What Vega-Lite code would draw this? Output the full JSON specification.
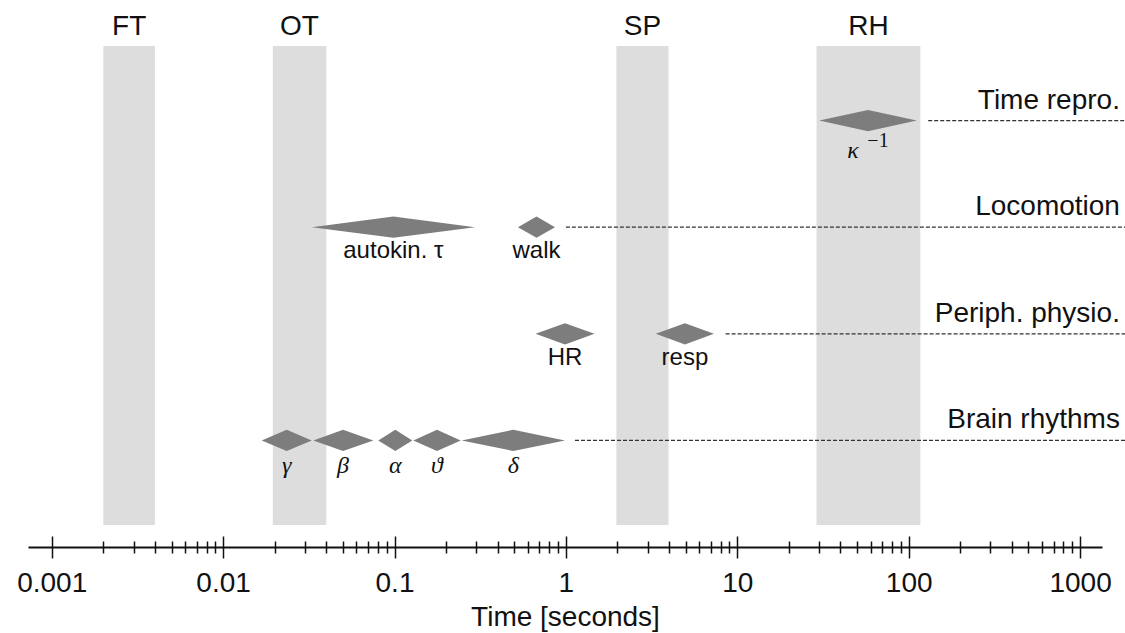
{
  "$schema": "https://vega.github.io/schema/vega-lite/v6.json",
  "width": 1074,
  "height": 547,
  "autosize": {"type": "none"},
  "padding": {"left": 28, "top": 0, "right": 23, "bottom": 86},
  "background": "white",
  "config": {"view": {"stroke": null}, "text": {"font": "Liberation Sans", "color": "#111111"}},
  "datasets": {
    "bands": [
      {"name": "FT", "lo": 0.002, "hi": 0.004, "mid": 0.00283},
      {"name": "OT", "lo": 0.0195, "hi": 0.04, "mid": 0.0279},
      {"name": "SP", "lo": 1.97, "hi": 3.97, "mid": 2.8},
      {"name": "RH", "lo": 29, "hi": 117, "mid": 58.2}
    ],
    "rows": [
      {"name": "Time repro.", "row": 4, "start": 130},
      {"name": "Locomotion", "row": 3, "start": 1.0},
      {"name": "Periph. physio.", "row": 2, "start": 8.55},
      {"name": "Brain rhythms", "row": 1, "start": 1.13}
    ],
    "diamonds": [
      {"id": "kappa", "row": 4, "mid": 57.9, "kind": "kappa", "label": "κ"},
      {"id": "autokin", "row": 3, "mid": 0.0985, "kind": "word", "label": "autokin. τ"},
      {"id": "walk", "row": 3, "mid": 0.674, "kind": "word", "label": "walk"},
      {"id": "HR", "row": 2, "mid": 0.988, "kind": "word", "label": "HR"},
      {"id": "resp", "row": 2, "mid": 4.95, "kind": "word", "label": "resp"},
      {"id": "gamma", "row": 1, "mid": 0.0235, "kind": "greek", "label": "γ"},
      {"id": "beta", "row": 1, "mid": 0.0501, "kind": "greek", "label": "β"},
      {"id": "alpha", "row": 1, "mid": 0.1011, "kind": "greek", "label": "α"},
      {"id": "theta", "row": 1, "mid": 0.177, "kind": "greek", "label": "ϑ"},
      {"id": "delta", "row": 1, "mid": 0.4934, "kind": "greek", "label": "δ"}
    ],
    "verts": [
      {"id": "kappa", "t": 30.1, "top": 4, "bot": 4},
      {"id": "kappa", "t": 57.9, "top": 4.1, "bot": 3.9},
      {"id": "kappa", "t": 111.4, "top": 4, "bot": 4},
      {"id": "autokin", "t": 0.0329, "top": 3, "bot": 3},
      {"id": "autokin", "t": 0.0985, "top": 3.1, "bot": 2.9},
      {"id": "autokin", "t": 0.295, "top": 3, "bot": 3},
      {"id": "walk", "t": 0.525, "top": 3, "bot": 3},
      {"id": "walk", "t": 0.674, "top": 3.1, "bot": 2.9},
      {"id": "walk", "t": 0.864, "top": 3, "bot": 3},
      {"id": "HR", "t": 0.665, "top": 2, "bot": 2},
      {"id": "HR", "t": 0.988, "top": 2.1, "bot": 1.9},
      {"id": "HR", "t": 1.469, "top": 2, "bot": 2},
      {"id": "resp", "t": 3.346, "top": 2, "bot": 2},
      {"id": "resp", "t": 4.95, "top": 2.1, "bot": 1.9},
      {"id": "resp", "t": 7.31, "top": 2, "bot": 2},
      {"id": "gamma", "t": 0.0168, "top": 1, "bot": 1},
      {"id": "gamma", "t": 0.0235, "top": 1.1, "bot": 0.9},
      {"id": "gamma", "t": 0.0329, "top": 1, "bot": 1},
      {"id": "beta", "t": 0.0336, "top": 1, "bot": 1},
      {"id": "beta", "t": 0.0501, "top": 1.1, "bot": 0.9},
      {"id": "beta", "t": 0.0752, "top": 1, "bot": 1},
      {"id": "alpha", "t": 0.0804, "top": 1, "bot": 1},
      {"id": "alpha", "t": 0.1011, "top": 1.1, "bot": 0.9},
      {"id": "alpha", "t": 0.127, "top": 1, "bot": 1},
      {"id": "theta", "t": 0.1288, "top": 1, "bot": 1},
      {"id": "theta", "t": 0.177, "top": 1.1, "bot": 0.9},
      {"id": "theta", "t": 0.2433, "top": 1, "bot": 1},
      {"id": "delta", "t": 0.2466, "top": 1, "bot": 1},
      {"id": "delta", "t": 0.4934, "top": 1.1, "bot": 0.9},
      {"id": "delta", "t": 0.988, "top": 1, "bot": 1}
    ]
  },
  "resolve": {"axis": {"x": "independent"}},
  "layer": [
    {
      "data": {"name": "bands"},
      "mark": {"type": "rect", "color": "#dddddd"},
      "encoding": {
        "x": {"field": "lo", "type": "quantitative",
              "scale": {"type": "log", "domain": [0.000727, 1343], "nice": false},
              "axis": {"orient": "bottom", "values": [0.001, 0.01, 0.1, 1, 10, 100, 1000], "format": "~g",
                       "grid": false, "domain": true, "domainColor": "#111111", "domainWidth": 2,
                       "ticks": true, "tickSize": 11, "tickWidth": 1.5, "tickColor": "#111111",
                       "labelFont": "Liberation Sans", "labelFontSize": 28, "labelColor": "#111111", "labelPadding": 11,
                       "labelOverlap": false, "labelFlush": false,
                       "title": "Time [seconds]", "titleFont": "Liberation Sans", "titleFontSize": 28,
                       "titleFontWeight": "normal", "titleColor": "#111111", "titlePadding": 6}},
        "x2": {"field": "hi"},
        "y": {"datum": 4.70, "type": "quantitative", "scale": {"domain": [0, 5.131], "nice": false, "zero": false}, "axis": null},
        "y2": {"datum": 0.206}
      }
    },
    {
      "data": {"name": "bands"},
      "mark": {"type": "text", "fontSize": 28, "baseline": "alphabetic", "align": "center"},
      "encoding": {
        "x": {"field": "mid", "type": "quantitative", "scale": {"type": "log"}, "axis": null},
        "y": {"datum": 4.803, "type": "quantitative", "axis": null},
        "text": {"field": "name"}
      }
    },
    {
      "data": {"name": "rows"},
      "mark": {"type": "rule", "strokeDash": [4, 2], "strokeWidth": 1.3, "color": "#333333"},
      "encoding": {
        "x": {"field": "start", "type": "quantitative", "scale": {"type": "log"},
              "axis": {"orient": "bottom", "values": [0.001, 0.01, 0.1, 1, 10, 100, 1000], "grid": false,
                       "domain": false, "labels": false, "title": null, "tickSize": -11, "tickWidth": 1.5, "tickColor": "#111111"}},
        "x2": {"datum": 2500},
        "y": {"field": "row", "type": "quantitative", "axis": null}
      }
    },
    {
      "data": {"name": "verts"},
      "mark": {"type": "area", "color": "#7d7d7d", "orient": "vertical"},
      "encoding": {
        "x": {"field": "t", "type": "quantitative", "scale": {"type": "log"},
              "axis": {"orient": "bottom", "values": [0.002, 0.003, 0.004, 0.005, 0.006, 0.007, 0.008, 0.009, 0.02, 0.03, 0.04, 0.05, 0.06, 0.07, 0.08, 0.09, 0.2, 0.3, 0.4, 0.5, 0.6, 0.7, 0.8, 0.9, 2, 3, 4, 5, 6, 7, 8, 9, 20, 30, 40, 50, 60, 70, 80, 90, 200, 300, 400, 500, 600, 700, 800, 900],
                       "grid": false, "domain": false, "labels": false, "title": null, "tickSize": 6, "tickWidth": 1.5, "tickColor": "#111111"}},
        "y": {"field": "top", "type": "quantitative", "stack": null, "axis": null},
        "y2": {"field": "bot"},
        "detail": {"field": "id"}
      }
    },
    {
      "data": {"name": "rows"},
      "mark": {"type": "text", "fontSize": 28, "align": "right", "baseline": "alphabetic", "dy": -12},
      "encoding": {
        "x": {"datum": 1709, "type": "quantitative", "scale": {"type": "log"},
              "axis": {"orient": "bottom", "values": [0.002, 0.003, 0.004, 0.005, 0.006, 0.007, 0.008, 0.009, 0.02, 0.03, 0.04, 0.05, 0.06, 0.07, 0.08, 0.09, 0.2, 0.3, 0.4, 0.5, 0.6, 0.7, 0.8, 0.9, 2, 3, 4, 5, 6, 7, 8, 9, 20, 30, 40, 50, 60, 70, 80, 90, 200, 300, 400, 500, 600, 700, 800, 900],
                       "grid": false, "domain": false, "labels": false, "title": null, "tickSize": -6, "tickWidth": 1.5, "tickColor": "#111111"}},
        "y": {"field": "row", "type": "quantitative", "axis": null},
        "text": {"field": "name"}
      }
    },
    {
      "data": {"name": "diamonds"},
      "transform": [{"filter": "datum.kind === 'word'"}],
      "mark": {"type": "text", "fontSize": 24, "align": "center", "baseline": "alphabetic", "dy": 31},
      "encoding": {
        "x": {"field": "mid", "type": "quantitative", "scale": {"type": "log"}, "axis": null},
        "y": {"field": "row", "type": "quantitative", "axis": null},
        "text": {"field": "label"}
      }
    },
    {
      "data": {"name": "diamonds"},
      "transform": [{"filter": "datum.kind === 'greek'"}],
      "mark": {"type": "text", "font": "Liberation Serif", "fontStyle": "italic", "fontSize": 24, "align": "center", "baseline": "alphabetic", "dy": 33},
      "encoding": {
        "x": {"field": "mid", "type": "quantitative", "scale": {"type": "log"}, "axis": null},
        "y": {"field": "row", "type": "quantitative", "axis": null},
        "text": {"field": "label"}
      }
    },
    {
      "data": {"name": "diamonds"},
      "transform": [{"filter": "datum.kind === 'kappa'"}],
      "mark": {"type": "text", "font": "Liberation Serif", "fontStyle": "italic", "fontSize": 24, "align": "center", "baseline": "alphabetic", "dy": 37, "dx": -15},
      "encoding": {
        "x": {"field": "mid", "type": "quantitative", "scale": {"type": "log"}, "axis": null},
        "y": {"field": "row", "type": "quantitative", "axis": null},
        "text": {"field": "label"}
      }
    },
    {
      "data": {"name": "diamonds"},
      "transform": [{"filter": "datum.kind === 'kappa'"}],
      "mark": {"type": "text", "font": "Liberation Serif", "fontSize": 20, "align": "center", "baseline": "alphabetic", "dy": 26, "dx": 10},
      "encoding": {
        "x": {"field": "mid", "type": "quantitative", "scale": {"type": "log"}, "axis": null},
        "y": {"field": "row", "type": "quantitative", "axis": null},
        "text": {"value": "−1"}
      }
    }
  ]
}
